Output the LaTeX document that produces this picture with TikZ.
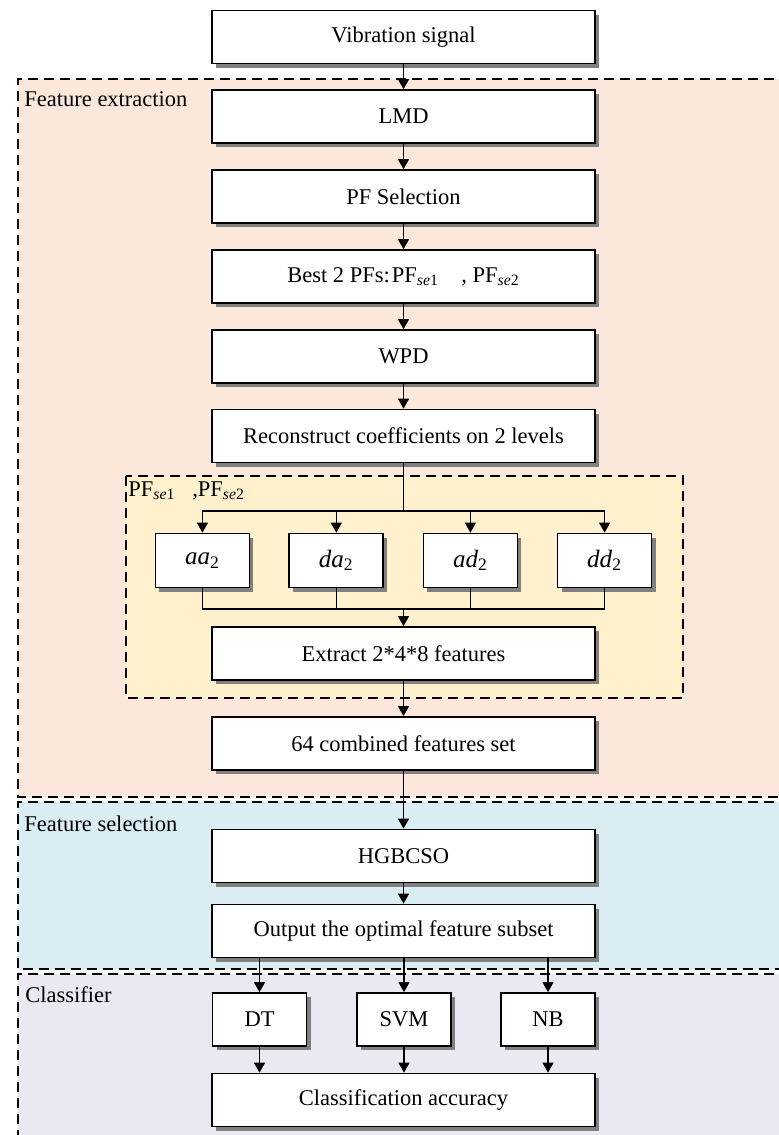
\documentclass[tikz,border=0pt]{standalone}
\usepackage{fontspec}
\setmainfont{Liberation Serif}
\usetikzlibrary{arrows.meta,shadows}
\definecolor{peach}{RGB}{252,232,218}
\definecolor{skyb}{RGB}{218,237,243}
\definecolor{lav}{RGB}{235,232,242}
\definecolor{yel}{RGB}{255,240,206}
\newcommand{\pfsub}[1]{PF\textsubscript{\textit{se}#1}}
\begin{document}
\begin{tikzpicture}[x=0.5pt,y=-0.5pt,
  font=\fontsize{11.25}{13}\selectfont,
  shd/.style={drop shadow={shadow xshift=2pt,shadow yshift=-2pt,fill=black!50,opacity=1}},
  bigbox/.style={draw=black,line width=0.85pt,fill=white,minimum width=191.5pt,minimum height=26.5pt,inner sep=0pt,shd},
  smallbox/.style={draw=black,line width=0.85pt,fill=white,minimum width=47pt,minimum height=27pt,inner sep=0pt,shd},
  wv/.style={font=\fontsize{12.5}{14}\selectfont},
  dsh/.style={line width=0.7pt,dash pattern=on 5pt off 3pt},
  lbl/.style={anchor=base west,inner sep=0pt},
  conn/.style={line width=0.6pt},
  arr/.style={conn,-{Triangle[length=5pt,width=5.5pt]}}]
\clip (0,0) rectangle (779,1135);
% regions
\fill[peach] (18,79) rectangle (790,797);
\draw[dsh] (790,79) -- (18,79) -- (18,797) -- (790,797);
\fill[skyb] (18,802) rectangle (790,969);
\draw[dsh] (790,802) -- (18,802) -- (18,969) -- (790,969);
\fill[lav] (18,974) rectangle (790,1140);
\draw[dsh] (790,974) -- (18,974) -- (18,1140);
\draw[dsh,fill=yel] (126,476) rectangle (683,698);
% labels
\node[lbl] (lfe) at (24,106) {Feature extraction};
\node[lbl] (lfs) at (24,831) {Feature selection};
\node[lbl] (lcl) at (25,1002) {Classifier};
\node[lbl] (lpf) at (128,496.5) {\pfsub{1}\hspace{0.75em},\pfsub{2}};
% main boxes
\node[bigbox] (vs) at (403.5,37) {Vibration signal};
\node[bigbox] (lmd) at (403.5,116.5) {LMD};
\node[bigbox] (pfs) at (403.5,196.5) {PF Selection};
\node[bigbox] (best) at (403.5,276.5) {Best 2 PFs:\kern1pt\pfsub{1}\hspace{1em}, \pfsub{2}};
\node[bigbox] (wpd) at (403.5,356.5) {WPD};
\node[bigbox] (rc) at (403.5,436) {Reconstruct coefficients on 2 levels};
\node[smallbox,wv] (aa) at (202.4,560.5) {\textit{aa}\textsubscript{2}};
\node[smallbox,wv] (da) at (336.3,560.5) {\textit{da}\textsubscript{2}};
\node[smallbox,wv] (ad) at (470.4,560.5) {\textit{ad}\textsubscript{2}};
\node[smallbox,wv] (dd) at (604.6,560.5) {\textit{dd}\textsubscript{2}};
\node[bigbox] (ex) at (403.5,653.5) {Extract 2*4*8 features};
\node[bigbox] (cf) at (403.5,743.5) {64 combined features set};
\node[bigbox] (hg) at (403.5,856) {HGBCSO};
\node[bigbox] (op) at (403.5,931) {Output the optimal feature subset};
\node[smallbox,minimum height=26.5pt] (dt) at (259.5,1019.5) {DT};
\node[smallbox,minimum height=26.5pt] (svm) at (404,1019.5) {SVM};
\node[smallbox,minimum height=26.5pt] (nb) at (548,1019.5) {NB};
\node[bigbox] (ca) at (403.5,1100) {Classification accuracy};
% connectors
\draw[arr] (vs) -- (lmd);
\draw[arr] (lmd) -- (pfs);
\draw[arr] (pfs) -- (best);
\draw[arr] (best) -- (wpd);
\draw[arr] (wpd) -- (rc);
\coordinate (br) at (403.5,511);
\draw[conn] (rc.south) -- (br);
\draw[arr] (br) -| (aa.north);
\draw[arr] (br) -| (da.north);
\draw[arr] (br) -| (ad.north);
\draw[arr] (br) -| (dd.north);
\coordinate (mg) at (403.5,609);
\draw[conn] (aa.south) |- (mg);
\draw[conn] (da.south) |- (mg);
\draw[conn] (ad.south) |- (mg);
\draw[conn] (dd.south) |- (mg);
\draw[arr] (mg) -- (ex.north);
\draw[arr] (ex) -- (cf);
\draw[arr] (cf) -- (hg);
\draw[arr] (hg) -- (op);
\draw[arr] (op.south -| dt.north) -- (dt.north);
\draw[arr] (op.south -| svm.north) -- (svm.north);
\draw[arr] (op.south -| nb.north) -- (nb.north);
\draw[arr] (dt.south) -- (ca.north -| dt.south);
\draw[arr] (svm.south) -- (ca.north -| svm.south);
\draw[arr] (nb.south) -- (ca.north -| nb.south);
\end{tikzpicture}
\end{document}
